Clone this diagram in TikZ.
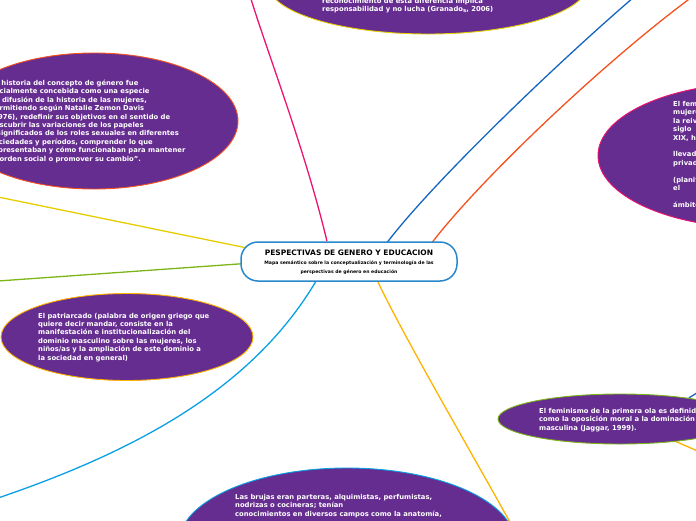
\documentclass[tikz,border=0pt]{standalone}
\usepackage{fontspec}
\setmainfont{DejaVu Sans}
\usetikzlibrary{shapes.geometric,backgrounds}

\definecolor{violeta}{RGB}{102,45,145}
\definecolor{rosa}{RGB}{236,20,110}
\definecolor{azul}{RGB}{21,101,192}
\definecolor{naranja}{RGB}{244,81,30}
\definecolor{amarillo}{RGB}{230,205,0}
\definecolor{verde}{RGB}{124,181,24}
\definecolor{celeste}{RGB}{10,160,228}
\definecolor{ambar}{RGB}{255,179,0}
\definecolor{marco}{RGB}{40,136,204}

\begin{document}
\begin{tikzpicture}[x=1pt,y=-1pt,
    idea/.style={shape=ellipse,fill=violeta,draw=#1,line width=0.9pt,inner sep=0pt},
    texto/.style={anchor=base west,inner sep=0pt,align=left,text=white,
      font=\bfseries\fontsize{6.8}{8.4}\selectfont},
    rama/.style={draw=#1,line width=1.3pt}]
        \useasboundingbox (0,0) rectangle (696,520);

        % ideas
        \node[idea=amarillo,minimum width=320pt,minimum height=100pt] (granados) at (428,-16) {};
        \node[idea=naranja,minimum width=288pt,minimum height=136pt] (historia) at (94,121) {};
        \node[idea=rosa,minimum width=320pt,minimum height=145pt] (reivindica) at (758,155.5) {};
        \node[idea=ambar,minimum width=252pt,minimum height=87pt] (patriarcado) at (127,337) {};
        \node[idea=verde,minimum width=244pt,minimum height=50pt] (ola) at (620,419) {};
        \node[idea=celeste,minimum width=336pt,minimum height=150pt] (brujas) at (347,543) {};

        % base = last line
        \node[texto] (granadostxt) at (322,11.4) {reconocimiento de esta diferencia implica\\
          responsabilidad y no lucha (Granado\raisebox{-1pt}{\fontsize{5.5}{6}\selectfont s}, 2006)};
        \node[texto] (historiatxt) at (-10,161.1) {La historia del concepto de género fue\\
          inicialmente concebida como una especie\\
          de difusión de la historia de las mujeres,\\
          permitiendo según Natalie Zemon Davis\\
          (1976), redefinir sus objetivos en el sentido de\\
          descubrir las variaciones de los papeles\\
          y significados de los roles sexuales en diferentes\\
          sociedades y períodos, comprender lo que\\
          representaban y cómo funcionaban para mantener\\
          el orden social o promover su cambio”.};
        \node[texto] (reivindicatxt) at (673,207.3) {El feminismo\\mujeres\\la reivindicación\\siglo\\XIX, hasta\\[8.4pt]
          llevado\\privado\\[8.4pt](planificación\\el\\[8.4pt]ámbito};
        \node[texto] (patriarcadotxt) at (38,360) {El patriarcado (palabra de origen griego que\\
          quiere decir mandar, consiste en la\\
          manifestación e institucionalización del\\
          dominio masculino sobre las mujeres, los\\
          niños/as y la ampliación de este dominio a\\
          la sociedad en general)};
        \node[texto] (olatxt) at (539,430.3) {El feminismo de la primera ola es definido\\
          como la oposición moral a la dominación\\
          masculina (Jaggar, 1999).};
        \node[texto] (brujastxt) at (235,516.3) {Las brujas eran parteras, alquimistas, perfumistas,\\
          nodrizas o cocineras; tenían\\
          conocimientos en diversos campos como la anatomía,};

        % tema central
        \node[draw=marco,line width=1.5pt,rounded corners=17pt,fill=white,
          minimum width=216pt,minimum height=39pt,inner sep=0pt] (root) at (349,261.5) {};
        \node[anchor=base,inner sep=0pt,font=\bfseries\fontsize{7.5}{9}\selectfont] (titulo) at (349,255) {PESPECTIVAS DE GENERO Y EDUCACION};
        \node[anchor=base,inner sep=0pt,align=center,font=\bfseries\fontsize{4.6}{8.6}\selectfont] (subtitulo) at (349,273.1)
          {Mapa semántico sobre la conceptualización y terminología de las\\perspectivas de género en educación};

        \coordinate (finrosa) at (250,-4);
        \coordinate (finazul) at (634,-3);
        \coordinate (finnaranja) at (692,-3);
        \coordinate (finamarillo) at (-2,197);
        \coordinate (finverde) at (-2,281);
        \coordinate (finceleste) at (-2,498);
        \coordinate (finambar) at (511,524);
        \coordinate (finazuldos) at (700,391);
        \coordinate (finambardos) at (700,452);

        \begin{scope}[on background layer]
        \draw[rama=rosa] ([xshift=-22pt]root.north) .. controls (305,150) and (270,60) .. (finrosa);
        \draw[rama=azul] ([xshift=36pt,yshift=-4pt]root.north) .. controls (430,185) and (555,65) .. (finazul);
        \draw[rama=naranja] ([xshift=81pt,yshift=-4pt]root.north) .. controls (475,185) and (600,65) .. (finnaranja);
        \draw[rama=amarillo] (finamarillo) -- ([xshift=19pt,yshift=11pt]root.west);
        \draw[rama=verde] (finverde) -- ([xshift=19pt,yshift=-1pt]root.west);
        \draw[rama=celeste] ([xshift=-31pt,yshift=4pt]root.south) .. controls (256,385) and (142,449) .. (finceleste);
        \draw[rama=ambar] ([xshift=27pt,yshift=4pt]root.south) .. controls (400,330) and (470,450) .. (finambar);
        \draw[rama=azul] (finazuldos) -- (ola.17);
        \draw[rama=ambar] (ola.-22) -- (finambardos);
        \end{scope}
\end{tikzpicture}
\end{document}
